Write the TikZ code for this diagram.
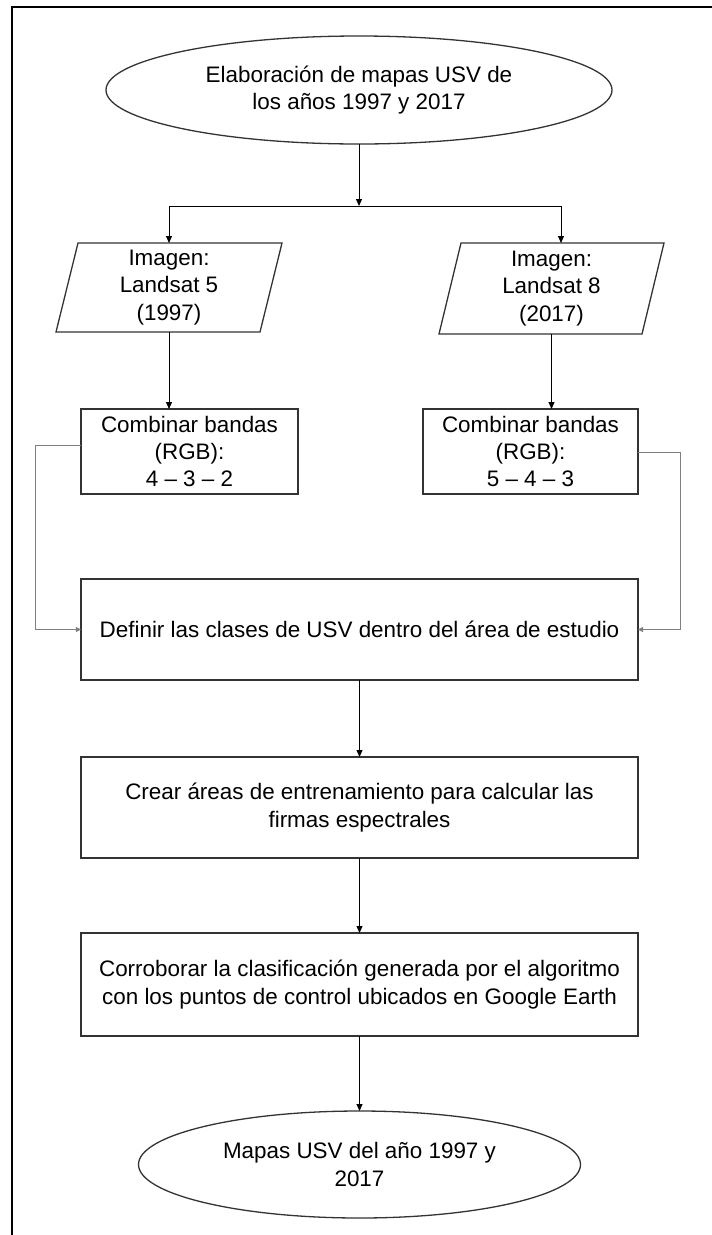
\documentclass[tikz,border=0pt]{standalone}
\usepackage{fontspec}
\setmainfont{Liberation Sans}
\usetikzlibrary{shapes.geometric,arrows.meta,calc}
\begin{document}
\begin{tikzpicture}[x=1bp,y=-1bp,
  every node/.style={font=\fontsize{22.5}{27.5}\selectfont, align=center, inner sep=0pt, outer sep=0pt},
  boxstyle/.style={draw=black!80, line width=1.3bp, rectangle},
  ovalstyle/.style={draw=black!80, line width=1.3bp, ellipse},
  plain/.style={rectangle},
  pgram/.style={draw=black!80, line width=1.3bp, line join=miter},
  arr/.style={draw=black, line width=1bp, -{Triangle[length=7bp,width=6bp]}},
  conn/.style={draw=black, line width=1bp},
  fb/.style={draw=black!50, line width=1bp, -{Triangle[length=5bp,width=5bp]}},
  frame/.style={draw=black, line width=2bp}]
\useasboundingbox (0,0) rectangle (712,1235);
% outer frame (left and top)
\coordinate (fa) at (12,1235);
\coordinate (fb) at (12,7);
\coordinate (fc) at (712,7);
\draw[frame] (fa) -- (fb) -- (fc);

% nodes
\node[ovalstyle, minimum width=506bp, minimum height=108bp] (e1) at (359,90)
  {Elaboración de mapas USV de\\los años 1997 y 2017};

\node[plain, minimum width=204bp, minimum height=89bp] (p1) at (169,287.5)
  {Imagen:\\Landsat 5\\(1997)};
\node[plain, minimum width=203bp, minimum height=91bp] (p2) at (551.5,288.5)
  {Imagen:\\Landsat 8\\(2017)};
\draw[pgram] ($(p1.north west)+(11,0)$) -- ($(p1.north east)+(11,0)$)
  -- ($(p1.south east)+(-11,0)$) -- ($(p1.south west)+(-11,0)$) -- cycle;
\draw[pgram] ($(p2.north west)+(11,0)$) -- ($(p2.north east)+(11,0)$)
  -- ($(p2.south east)+(-11,0)$) -- ($(p2.south west)+(-11,0)$) -- cycle;

\node[boxstyle, minimum width=217bp, minimum height=85bp] (c1) at (189.5,451.5)
  {Combinar bandas\\(RGB):\\4 – 3 – 2};
\node[boxstyle, minimum width=215bp, minimum height=85bp] (c2) at (530.5,451.5)
  {Combinar bandas\\(RGB):\\5 – 4 – 3};

\node[boxstyle, minimum width=557bp, minimum height=101bp] (d) at (359.5,629.5)
  {Definir las clases de USV dentro del área de estudio};
\node[boxstyle, minimum width=557bp, minimum height=101bp] (cr) at (359.5,807.5)
  {Crear áreas de entrenamiento para calcular las\\firmas espectrales};
\node[boxstyle, minimum width=557bp, minimum height=103bp] (co) at (359.5,984.5)
  {Corroborar la clasificación generada por el algoritmo\\con los puntos de control ubicados en Google Earth};
\node[ovalstyle, minimum width=442bp, minimum height=107bp] (e2) at (359.5,1164.5)
  {Mapas USV del año 1997 y\\2017};

% connectors
\coordinate (sp) at (359,206);
\coordinate (bl) at (169,206);
\coordinate (br) at (561,206);
\draw[arr] (e1.south) -- (sp);
\draw[conn] (bl) -- (br);
\draw[arr] (bl) -- (bl |- p1.north);
\draw[arr] (br) -- (br |- p2.north);
\draw[arr] (p1.south) -- (p1.south |- c1.north);
\draw[arr] (p2.south) -- (p2.south |- c2.north);

% feedback lines
\coordinate (l1) at (35,445);
\coordinate (l2) at (35,629.5);
\coordinate (r1) at (680,452);
\coordinate (r2) at (680,629.5);
\draw[fb] (c1.west |- l1) -- (l1) -- (l2) -- (d.west);
\draw[fb] (c2.east |- r1) -- (r1) -- (r2) -- (d.east);

\draw[arr] (d.south) -- (cr.north);
\draw[arr] (cr.south) -- (co.north);
\draw[arr] (co.south) -- (e2.north);
\end{tikzpicture}
\end{document}
